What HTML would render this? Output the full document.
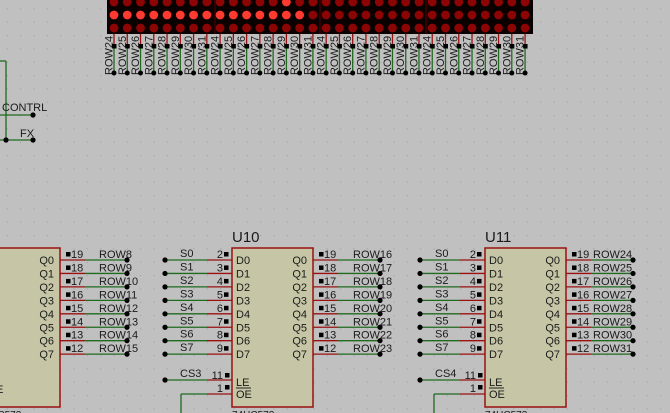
<!DOCTYPE html>
<html><head><meta charset="utf-8"><style>
html,body{margin:0;padding:0;background:#c0c0c0;}
svg{display:block;font-family:"Liberation Sans",sans-serif;}
</style></head><body>
<svg id="s" width="670" height="413" xmlns="http://www.w3.org/2000/svg">
<defs><pattern id="g" x="6.67" y="8.3" width="13.333" height="13.333" patternUnits="userSpaceOnUse"><rect x="0" y="0" width="1.2" height="1.2" fill="#a4a4a4"/></pattern></defs>
<rect width="670" height="413" fill="#c0c0c0"/>
<rect width="670" height="413" fill="url(#g)"/>
</svg>
<script>
var s=document.getElementById('s'),h='';
function L(x1,y1,x2,y2,c,w){h+='<line x1="'+x1+'" y1="'+y1+'" x2="'+x2+'" y2="'+y2+'" stroke="'+c+'" stroke-width="'+(w||1.3)+'"/>';}
function D(x,y,r){h+='<circle cx="'+x+'" cy="'+y+'" r="'+(r||2.6)+'" fill="#000"/>';}
function T(x,y,t,sz,a,extra){h+='<text x="'+x+'" y="'+y+'" font-size="'+(sz||10)+'" fill="#1a1a1a" text-anchor="'+(a||'start')+'" '+(extra||'')+'>'+t+'</text>';}
function Q(x,y){h+='<rect x="'+(x-2)+'" y="'+(y-2)+'" width="4.5" height="4.5" fill="#000"/>';}
var G='#1f6a1f',R='#9a1010';
h+='<rect x="107" y="0" width="426" height="34" fill="#0a0000"/>';
[215,320,426].forEach(function(x){L(x,0,x,34,'#5a0000',1);});
for(var i=0;i<32;i++){var x=114+i*13.26;
 for(var r=0;r<3;r++){var y=2+r*13;var lit=(r==1&&i<15)||(r==0&&i==13);
  h+='<circle cx="'+x+'" cy="'+y+'" r="4.4" fill="'+(lit?'#ff3a30':'#8c0404')+'"/>';}
 L(x,34,x,45,R);L(x,45,x,73,G);
 T(x-1.5,75,'ROW'+(24+i%8),11,'start','transform="rotate(-90 '+(x-1.5)+' 75)"');
 Q(x,46);D(x,73,2.5);
}
L(0,61,6,61,G);L(6,61,6,140,G);L(0,115,33,115,G);D(33,115);T(2,111,'CONTRL',11);
L(0,140,33,140,G);D(6,140);D(33,140);T(20,137,'FX',11);
function chip(bx,ldot,rdot,name,cs,rows,showLeft){
 var bw=81;
 h+='<rect x="'+bx+'" y="248" width="'+bw+'" height="159" fill="#c6c6a6" stroke="'+R+'" stroke-width="1.5"/>';
 if(name)T(bx,242,name,15);
 for(var k=0;k<8;k++){var y=260+k*13.45;
  if(showLeft){L(ldot,y,bx-25,y,G);L(bx-25,y,bx,y,R);D(ldot,y);
   T(ldot+15,y-3,'S'+k,11);T(bx-9,y-2,''+[2,3,4,5,6,7,8,9][k],11,'end');Q(bx-6,y-6);
   T(bx+4,y+4,'D'+k,11);}
  L(bx+bw,y,bx+bw+25,y,R);L(bx+bw+25,y,rdot,y,G);D(rdot,y);
  T(bx+bw-6,y+4,'Q'+k,11,'end');Q(bx+bw+8,y-6);T(bx+bw+11,y-2,''+(19-k),11);
  T(rows.x,y-2,'ROW'+(rows.s+k),11);
 }
 if(showLeft){var y=380;L(ldot,y,bx-25,y,G);L(bx-25,y,bx,y,R);D(ldot,y);T(ldot+15,y-3,cs,11);
  T(bx-9,y-1,'11',11,'end');Q(bx-5,y-5);Q(bx-5,y+7);T(bx-9,y+12,'1',11,'end');
  L(bx-51,394,bx-25,394,G);L(bx-25,394,bx,394,R);L(bx-51,394,bx-51,413,G);
  T(bx+4,y+6,'LE',11);L(bx+4,y+8,bx+19,y+8,'#222',1);T(bx+4,y+18,'OE',11);}
 T(bx+0,418,'74HC573',10);
}
chip(-21,0,127,'','',{x:99,s:8},false);
chip(232,165,380,'U10','CS3',{x:353,s:16},true);
chip(485,420,633,'U11','CS4',{x:593,s:24},true);
T(-4,393,'E',11);
s.innerHTML+=h;
</script>
</body></html>
